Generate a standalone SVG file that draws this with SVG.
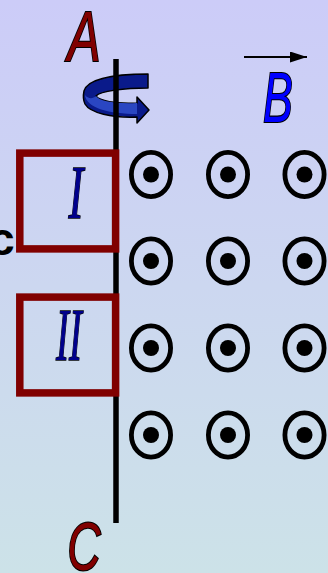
<svg xmlns="http://www.w3.org/2000/svg" xmlns:xlink="http://www.w3.org/1999/xlink" width="328" height="573" viewBox="0 0 328 573">
<defs>
<linearGradient id="bg" x1="0" y1="0" x2="0" y2="1">
<stop offset="0" stop-color="#ccccf8"/>
<stop offset="1" stop-color="#cce2e8"/>
</linearGradient>
<g id="fieldDot">
<ellipse cx="0" cy="0" rx="19.6" ry="22.2" fill="none" stroke="#000" stroke-width="4.8"/>
<circle cx="0" cy="0" r="8" fill="#000"/>
</g>
<marker id="arrowB" viewBox="0 0 17 11" refX="17" refY="5.5" markerWidth="17" markerHeight="11" markerUnits="userSpaceOnUse" orient="auto">
<path d="M0,0 L17,5.5 L0,11 Z" fill="#000"/>
</marker>
<style>
.lbl{font-family:"Liberation Sans",Arial,sans-serif;font-style:italic;stroke:#000;stroke-width:2.2;text-anchor:middle;paint-order:stroke}
.rom{font-family:"Liberation Serif","Times New Roman",serif;font-style:italic;fill:#00008b;stroke:#000;stroke-width:1.5;text-anchor:middle;paint-order:stroke}
.frame{fill:none;stroke:#800000;stroke-width:7.5}
</style>
</defs>
<rect x="0" y="0" width="328" height="573" fill="url(#bg)"/>

<g id="rotation">
<path d="M148,74 C118,74 88,78 84,91 C83,96 83,100 85,104 C90,113 112,118 137,117 L137,123 L149,110 L137,97 L137,103 C115,104 99,101 96,96 C100,91 125,88 148,88 Z" fill="#0a1a8a" stroke="#000" stroke-width="1.5" stroke-linejoin="round"/>
<path d="M85,95 C86,108 110,114 137,114 L137,103 C115,104 99,101 96,96 C93,99 88,99 85,95 Z" fill="#2a46c2" stroke="none"/>
</g>

<g id="axis">
<line x1="116" y1="59" x2="116" y2="523" stroke="#000" stroke-width="5.5"/>
</g>

<g id="frameI">
<rect class="frame" x="19.8" y="153.1" width="95.8" height="95.8"/>
<text class="rom" font-size="77" transform="translate(76,218) scale(0.58,1)">I</text>
</g>
<g id="frameII">
<rect class="frame" x="19.8" y="297.1" width="95.8" height="95.8"/>
<text class="rom" font-size="73" transform="translate(69,360) scale(0.53,1)">II</text>
</g>

<g id="labelA"><text class="lbl" fill="#800000" font-size="71" transform="translate(84,61) scale(0.7,1)">A</text></g>
<g id="labelC"><text class="lbl" fill="#800000" font-size="68" transform="translate(84,570) scale(0.68,1)">C</text></g>
<g id="labelB"><text class="lbl" fill="#0000ff" font-size="71" transform="translate(278,122) scale(0.63,1)">B</text></g>
<g id="labelc"><text x="-11" y="255" font-family="Liberation Sans,Arial,sans-serif" font-weight="bold" font-size="46" fill="#000">c</text></g>

<g id="connectors">
<line x1="244" y1="57" x2="307" y2="57" stroke="#000" stroke-width="2" marker-end="url(#arrowB)"/>
</g>

<g id="field">
<use xlink:href="#fieldDot" x="151" y="174.5"/>
<use xlink:href="#fieldDot" x="228" y="174.5"/>
<use xlink:href="#fieldDot" x="304.5" y="174.5"/>
<use xlink:href="#fieldDot" x="151" y="261"/>
<use xlink:href="#fieldDot" x="228" y="261"/>
<use xlink:href="#fieldDot" x="304.5" y="261"/>
<use xlink:href="#fieldDot" x="151" y="348"/>
<use xlink:href="#fieldDot" x="228" y="348"/>
<use xlink:href="#fieldDot" x="304.5" y="348"/>
<use xlink:href="#fieldDot" x="151" y="435"/>
<use xlink:href="#fieldDot" x="228" y="435"/>
<use xlink:href="#fieldDot" x="304.5" y="435"/>
</g>
</svg>
